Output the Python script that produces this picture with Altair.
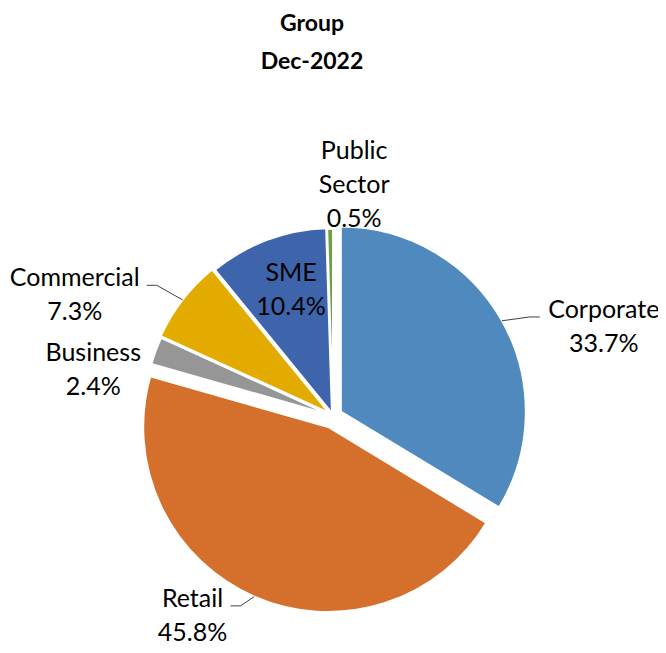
import math
import numpy as np
import pandas as pd
import altair as alt

# ---------------- data ----------------
categories = ["Corporate", "Retail", "Business", "Commercial", "SME", "Public Sector"]
label_names = ["Corporate", "Retail", "Business", "Commercial", "SME", "Public\nSector"]
shares = [33.7, 45.8, 2.4, 7.3, 10.4, 0.5]
colors = ["#4F89BD", "#D46F2C", "#969696", "#E3AB00", "#3E65AC", "#6A9F3E"]
title_lines = ["Group", "Dec-2022"]

# ---------------- layout / style ----------------
W, H = 650, 637              # view size (px); page margin is 8px
X0, Y0 = 325.0, 317.5        # view pixel used as the origin of the layout units
R = 185                      # pie radius, px
CX, CY = 0.0, 90.5           # pie centre, px from the origin (y downwards)
explode = [9, 12, 4, 5, 3, 2]                       # px, along each slice bisector
label_shift = [9.5, 12.8, -7.3, -11.0, 3.2, 5.6]    # deg, relative to slice mid-angle
label_radius = [288, 237, 246, 289, 141, 258]       # px from pie centre
leader_dx = [-64, 38, None, 72, None, None]         # leader end, px from label centre
FONT = "Lato"
LABEL_SIZE = 25
LINE_H = 34

# ---------------- geometry derived from the data ----------------
v = np.array(shares, dtype=float)
total = v.sum()
end = np.cumsum(v)
start = end - v
mid = (start + v / 2) / total * 2 * math.pi
ex = np.array(explode, dtype=float)
ox = CX + ex * np.sin(mid)
oy = CY - ex * np.cos(mid)
la = mid + np.radians(label_shift)
lr = np.array(label_radius, dtype=float)
lx = CX + lr * np.sin(la)
ly = CY - lr * np.cos(la)

slices = pd.DataFrame({
    "category": categories,
    "share": shares,
    "t0": start,
    "t1": end,
    "ox": ox,
    "oy": oy,
})

labels = pd.DataFrame({
    "category": categories,
    "text": [f"{n}\n{s:.1f}%" for n, s in zip(label_names, shares)],
    "lx": lx,
    "ly": ly,
})

rows = []
for i, cat in enumerate(categories):
    if leader_dx[i] is None:
        continue
    p0x = ox[i] + R * math.sin(mid[i])
    p0y = oy[i] - R * math.cos(mid[i])
    p2x = lx[i] + leader_dx[i]
    p2y = ly[i] - 1
    p1x = p2x + (10 if leader_dx[i] > 0 else -10)
    rows += [
        {"category": cat, "k": 0, "px": p0x, "py": p0y},
        {"category": cat, "k": 1, "px": p1x, "py": p2y},
        {"category": cat, "k": 2, "px": p2x, "py": p2y},
    ]
leaders = pd.DataFrame(rows)

titles = pd.DataFrame({
    "text": title_lines,
    "tx": [-21, -21],
    "ty": [-294.5, -256.5],
})

xs = alt.Scale(domain=[-X0, W - X0], nice=False, zero=False)
ys = alt.Scale(domain=[-Y0, H - Y0], nice=False, zero=False, reverse=True)
cs = alt.Scale(domain=categories, range=colors)

arcs = alt.Chart(slices).mark_arc(radius=R, stroke="white", strokeWidth=2).encode(
    x=alt.X("ox:Q", scale=xs, axis=None),
    y=alt.Y("oy:Q", scale=ys, axis=None),
    theta=alt.Theta("t0:Q", stack=False,
                    scale=alt.Scale(domain=[0, total], range=[0, 2 * math.pi])),
    theta2="t1:Q",
    color=alt.Color("category:N", scale=cs, legend=None),
)

lines = alt.Chart(leaders).mark_line(color="#404040", strokeWidth=1).encode(
    x=alt.X("px:Q", scale=xs, axis=None),
    y=alt.Y("py:Q", scale=ys, axis=None),
    detail="category:N",
    order="k:Q",
)

text = alt.Chart(labels).mark_text(
    align="center", baseline="alphabetic", lineBreak="\n",
    font=FONT, fontSize=LABEL_SIZE, lineHeight=LINE_H, color="#000000",
).encode(
    x=alt.X("lx:Q", scale=xs, axis=None),
    y=alt.Y("ly:Q", scale=ys, axis=None),
    text="text:N",
)

title = alt.Chart(titles).mark_text(
    align="center", baseline="alphabetic", font=FONT, fontSize=23,
    fontWeight="bold", color="#000000",
).encode(
    x=alt.X("tx:Q", scale=xs, axis=None),
    y=alt.Y("ty:Q", scale=ys, axis=None),
    text="text:N",
)

chart = alt.layer(arcs, lines, text, title).properties(
    width=W, height=H, padding=0, autosize="none",
).configure_view(stroke=None)

chart.save("out.html", embed_options={"renderer": "svg", "actions": False})
